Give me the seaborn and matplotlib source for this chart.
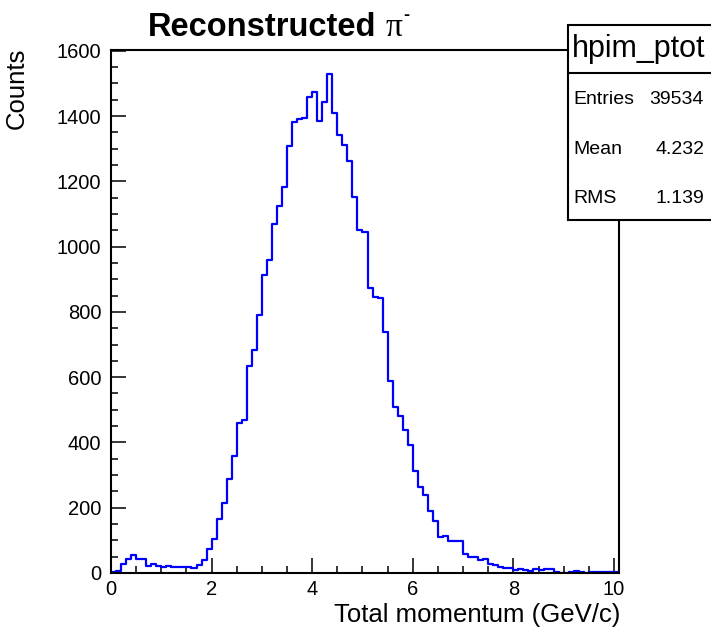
import numpy as np
import pandas as pd
import matplotlib
matplotlib.use("Agg")
import matplotlib.pyplot as plt
from matplotlib.patches import Rectangle
from matplotlib.ticker import MultipleLocator
import seaborn as sns

# histogram hpim_ptot, 0.1 GeV/c bins from 0 to 10.1
bin_width = 0.1
counts = [
    2, 7, 28, 44, 54, 43, 42, 22, 28, 21,
    19, 20, 19, 18, 18, 18, 14, 25, 39, 74,
    104, 164, 213, 288, 360, 461, 468, 633, 682, 789,
    914, 960, 1069, 1123, 1184, 1309, 1382, 1391, 1394, 1458,
    1475, 1385, 1442, 1528, 1409, 1342, 1312, 1263, 1153, 1051,
    1046, 873, 845, 842, 737, 587, 508, 480, 439, 393,
    314, 263, 238, 190, 160, 111, 112, 99, 99, 99,
    59, 48, 48, 39, 43, 29, 24, 18, 14, 14,
    9, 13, 9, 6, 11, 9, 13, 11, 3, 1,
    1, 2, 6, 4, 1, 3, 3, 3, 3, 4,
    3,
]
stat_names = ["Entries", "Mean", "RMS"]
stat_values = ["39534", "4.232", "1.139"]

n_bins = len(counts)
edges = [round(i * bin_width, 1) for i in range(n_bins + 1)]
df = pd.DataFrame({"ptot": [e + bin_width / 2 for e in edges[:-1]], "n": counts})

sns.set_style("ticks")
plt.rcParams["font.family"] = ["Liberation Sans", "DejaVu Sans"]
plt.rcParams["text.color"] = "black"
plt.rcParams["axes.labelcolor"] = "black"

fig = plt.figure(figsize=(7.11, 6.34), dpi=100)
ax = fig.add_axes([111 / 711, 1 - 573 / 634, (619 - 111) / 711, (573 - 49.5) / 634])

sns.histplot(data=df, x="ptot", weights="n", bins=edges, element="step", fill=False,
             color="#0000ff", linewidth=1.6, ax=ax)

ax.set_xlim(0, edges[-1])
ax.set_ylim(0, 1604)
ax.xaxis.set_major_locator(MultipleLocator(2))
ax.xaxis.set_minor_locator(MultipleLocator(0.5))
ax.yaxis.set_major_locator(MultipleLocator(200))
ax.yaxis.set_minor_locator(MultipleLocator(50))
ax.tick_params(which="both", direction="in", colors="black", labelcolor="black",
               width=1.1, top=False, right=False, labelsize=14.5)
ax.tick_params(which="major", length=11)
ax.tick_params(which="minor", length=5.3)
ax.tick_params(axis="y", pad=7)
ax.tick_params(axis="x", pad=5)
ax.set_xlabel("")
ax.set_ylabel("")
for s in ax.spines.values():
    s.set_visible(True)
    s.set_linewidth(1.5)
    s.set_color("black")

# axis titles (ROOT style, aligned to the axis ends)
fig.text(17 / 711, 1 - 48 / 634, "Counts", rotation=90, ha="center", va="top", fontsize=18.5)
fig.text(620 / 711, 1 - 615 / 634, "Total momentum (GeV/c)", ha="right", va="center", fontsize=18.5)

# title
fig.text(148 / 711, 1 - 36.5 / 634, "Reconstructed", ha="left", va="baseline",
         fontsize=23.5, fontweight="bold")
fig.text(386 / 711, 1 - 36.5 / 634, "\u03c0", ha="left", va="baseline",
         fontsize=24, family=["Liberation Serif", "DejaVu Serif"])
fig.text(403 / 711, 1 - 15 / 634, "-", ha="left", va="center", fontsize=13, fontweight="bold")

# stats box
box_left = 568 / 711
box_top = 1 - 25 / 634
box_bottom = 1 - 220 / 634
fig.add_artist(Rectangle((box_left, box_bottom), 0.3, box_top - box_bottom,
                         transform=fig.transFigure, facecolor="white",
                         edgecolor="black", linewidth=1.5, zorder=10))
fig.add_artist(plt.Line2D([box_left, 1.0], [1 - 73 / 634] * 2, transform=fig.transFigure,
                          color="black", linewidth=1.5, zorder=11))
fig.text(572 / 711, 1 - 49 / 634, "hpim_ptot", ha="left", va="center", fontsize=22, zorder=12)
for i, (name, val) in enumerate(zip(stat_names, stat_values)):
    y = 1 - (100 + 49 * i) / 634
    fig.text(573 / 711, y, name, ha="left", va="center", fontsize=14, zorder=12)
    fig.text(704 / 711, y, val, ha="right", va="center", fontsize=14, zorder=12)

fig.savefig("out.png", dpi=100, facecolor="white")
